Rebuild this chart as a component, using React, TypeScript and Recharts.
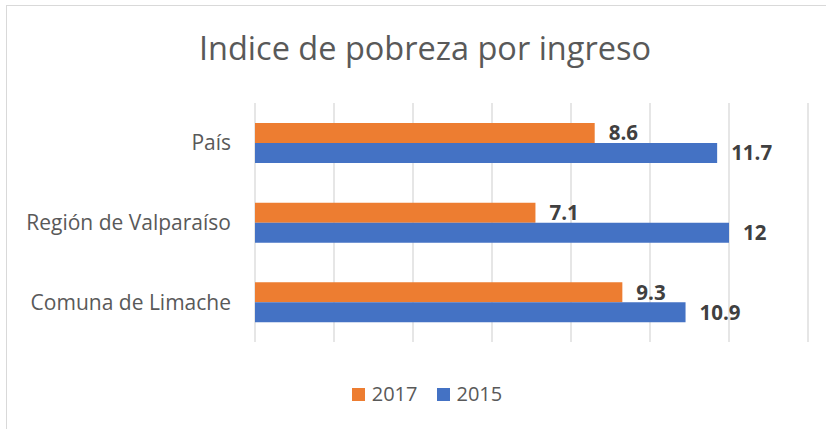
import React from "react";
import { BarChart, Bar, XAxis, YAxis, CartesianGrid, LabelList, Legend } from "recharts";

const categories = ["País", "Región de Valparaíso", "Comuna de Limache"];
const values2017 = [8.6, 7.1, 9.3];
const values2015 = [11.7, 12, 10.9];
const xTicks = [0, 2, 4, 6, 8, 10, 12, 14];
const seriesNames = ["2017", "2015"];
const title = "Indice de pobreza por ingreso";

const data = categories.map((c, i) => ({ name: c, y2017: values2017[i], y2015: values2015[i] }));

const FONT = "'Open Sans', 'Noto Sans', sans-serif";
const ORANGE = "#ED7D31";
const BLUE = "#4472C4";

const LegendContent = () => (
  <div style={{ display: "flex", justifyContent: "center", alignItems: "center", fontFamily: FONT, fontSize: 20, color: "#595959" }}>
    {[ORANGE, BLUE].map((col, i) => (
      <div key={i} style={{ display: "flex", alignItems: "center", marginLeft: i === 0 ? 0 : 19 }}>
        <div style={{ width: 13, height: 13, background: col, marginRight: 7 }} />
        <span style={{ lineHeight: "20px" }}>{seriesNames[i]}</span>
      </div>
    ))}
  </div>
);

export default function App() {
  return (
    <div style={{ position: "absolute", left: 0, top: 0, width: 826, height: 429, overflow: "hidden", background: "#fff" }}>
      <div style={{ position: "absolute", left: 6, top: 5, width: 840, height: 440, border: "1.5px solid #d9d9d9", boxSizing: "border-box" }} />
      <div style={{ position: "absolute", left: 12, top: 25, width: 826, textAlign: "center", fontFamily: FONT, fontSize: 32.5, color: "#595959", lineHeight: "46px" }}>
        {title}
      </div>
      <div style={{ position: "absolute", left: 0, top: 0 }}>
        <BarChart
          width={826}
          height={429}
          data={data}
          layout="vertical"
          margin={{ top: 103, right: 18, bottom: 87, left: 0 }}
          barGap={0}
          barCategoryGap={20}
        >
          <CartesianGrid horizontal={false} vertical={true} stroke="#d9d9d9" strokeWidth={1.3} />
          <XAxis type="number" domain={[0, 14]} ticks={xTicks} hide />
          <YAxis
            type="category"
            dataKey="name"
            width={255}
            axisLine={false}
            tickLine={false}
            tickSize={0}
            tickMargin={24}
            tick={{ fill: "#595959", fontSize: 21, fontFamily: FONT }}
          />
          <Legend
            layout="horizontal"
            verticalAlign="middle"
            align="center"
            wrapperStyle={{ top: 384, left: 14, width: 826 }}
            content={<LegendContent />}
          />
          <Bar dataKey="y2017" name="2017" fill={ORANGE} barSize={20} isAnimationActive={false}>
            <LabelList dataKey="y2017" position="right" offset={14} fill="#404040" fontSize={20.5} fontWeight="bold" fontFamily={FONT} />
          </Bar>
          <Bar dataKey="y2015" name="2015" fill={BLUE} barSize={20} isAnimationActive={false}>
            <LabelList dataKey="y2015" position="right" offset={14} fill="#404040" fontSize={20.5} fontWeight="bold" fontFamily={FONT} />
          </Bar>
        </BarChart>
      </div>
    </div>
  );
}
